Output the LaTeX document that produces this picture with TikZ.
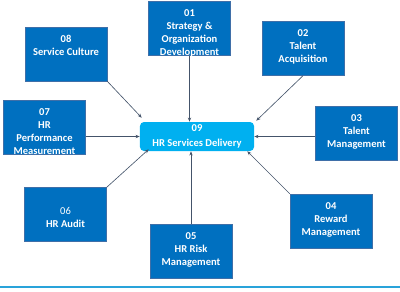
\documentclass[tikz,border=0pt]{standalone}
\usepackage{fontspec}
\setmainfont{Carlito}
\usetikzlibrary{arrows.meta, positioning, calc}

\begin{document}
\begin{tikzpicture}[x=0.25mm, y=-0.25mm]
    % Define colours
    \definecolor{boxColour}{HTML}{0070C0}
    \definecolor{hubColour}{HTML}{00B0F0}
    \definecolor{edgeColour}{HTML}{3F6FA8}
    \definecolor{lineColour}{HTML}{44546A}
    \definecolor{ruleColour}{HTML}{29A3DA}

    % Define styles
    \tikzset{
        box/.style={rectangle, fill=boxColour, draw=edgeColour, line width=0.3pt,
            minimum width=20.5mm, minimum height=13.5mm, inner sep=0pt},
        hub/.style={rectangle, rounded corners=1mm, fill=hubColour,
            minimum width=28.5mm, minimum height=7.25mm, inner sep=0pt,
            text=white, align=center, font=\fontsize{7.5}{10.6}\selectfont\bfseries},
        lbl/.style={text=white, align=center, inner sep=0pt, anchor=north,
            font=\fontsize{7.5}{9.2}\selectfont\bfseries},
        link/.style={draw=lineColour, line width=0.45pt,
            -{Stealth[length=3pt, width=2.4pt]}}
    }

    % Fix the page size
    \useasboundingbox (0,0) rectangle (400,291);

    % Draw the outer boxes
    \node[box] (b01) at (189.5,28.5) {};
    \node[box] (b02) at (303,48.5) {};
    \node[box] (b03) at (356.5,133) {};
    \node[box] (b04) at (331,221) {};
    \node[box] (b05) at (191,251.5) {};
    \node[box] (b06) at (65.5,214.5) {};
    \node[box] (b07) at (44.5,127) {};
    \node[box] (b08) at (66,54) {};

    % Draw the centre box
    \node[hub] (b09) at (197,136.5) {09\\HR Services Delivery};

    % Label the outer boxes
    \node[lbl] (t01) at ([yshift=-2.1mm]b01.north) {01\\Strategy \&\\Organization\\Development};
    \node[lbl] (t02) at ([yshift=-2.1mm]b02.north) {02\\Talent\\Acquisition};
    \node[lbl] (t03) at ([yshift=-2.1mm]b03.north) {03\\Talent\\Management};
    \node[lbl] (t04) at ([yshift=-2.1mm]b04.north) {04\\Reward\\Management};
    \node[lbl] (t05) at ([yshift=-2.1mm]b05.north) {05\\HR Risk\\Management};
    \node[lbl, anchor=center] (t06) at ([yshift=-0.75mm]b06.center) {\mdseries 06\\HR Audit};
    \node[lbl] (t07) at ([yshift=-2.1mm]b07.north) {07\\HR\\Performance\\Measurement};
    \node[lbl] (t08) at ([yshift=-2.1mm]b08.north) {08\\Service Culture};

    % Draw the links into the centre box
    \draw[link] (b01.south) -- (b01.south |- b09.north);
    \draw[link] (b02.south) -- ([shift={(2,-1)}]b09.north east);
    \draw[link] (b03.west |- b09.east) -- (b09.east);
    \draw[link] (b04.north west) -- ([xshift=-1.75mm]b09.south east);
    \draw[link] (b05.north) -- (b05.north |- b09.south);
    \draw[link] (b06.north east) -- ([shift={(9,-2)}]b09.south west);
    \draw[link] (b07.east |- b09.west) -- (b09.west);
    \draw[link] (b08.south east) -- ([shift={(2,-4)}]b09.north west);

    % Draw the rule at the bottom
    \draw[ruleColour, line width=0.5mm] (0,287) -- (400,287);

\end{tikzpicture}
\end{document}
